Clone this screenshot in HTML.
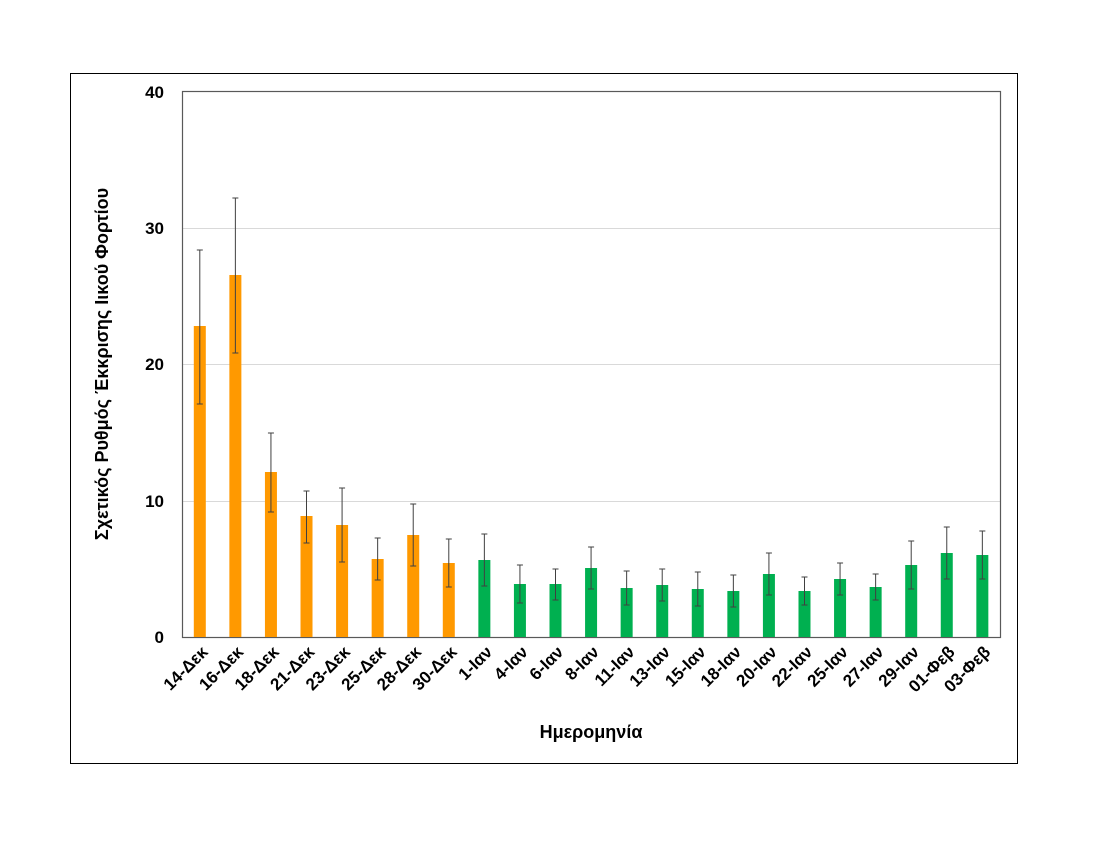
<!DOCTYPE html>
<html><head><meta charset="utf-8"><style>body{margin:0;background:#fff}svg{display:block}</style></head>
<body>
<svg width="1100" height="850" xmlns="http://www.w3.org/2000/svg" font-family="Liberation Sans, DejaVu Sans, sans-serif">
<rect x="70.5" y="73.5" width="947" height="690" fill="#fff" stroke="#000" stroke-width="1"/>
<g stroke="#d9d9d9" stroke-width="1">
<line x1="182" y1="228.5" x2="1000" y2="228.5"/>
<line x1="182" y1="364.5" x2="1000" y2="364.5"/>
<line x1="182" y1="501.5" x2="1000" y2="501.5"/>
</g>
<rect x="182.5" y="91.5" width="818" height="546" fill="none" stroke="#595959" stroke-width="1.2"/>
<g font-weight="bold" font-size="17" text-anchor="end" fill="#000">
<text x="164" y="98">40</text>
<text x="164" y="234">30</text>
<text x="164" y="370">20</text>
<text x="164" y="507">10</text>
<text x="164" y="643">0</text>
</g>
<text transform="translate(108,364) rotate(-90)" text-anchor="middle" font-weight="bold" font-size="18">Σχετικός Ρυθμός Έκκρισης Ιικού Φορτίου</text>
<text x="591" y="738" text-anchor="middle" font-weight="bold" font-size="18">Ημερομηνία</text>
<g id="bars"></g>
<g id="err" stroke="#404040" stroke-width="1"></g>
<g id="lab" font-weight="bold" font-size="17" text-anchor="end"></g>
<script>
var d=[["14-Δεκ",326,250,404],["16-Δεκ",275,198,353],["18-Δεκ",472,433,512],["21-Δεκ",516,491,543],["23-Δεκ",525,488,562],["25-Δεκ",559,538,580],["28-Δεκ",535,504,566],["30-Δεκ",563,539,587],["1-Ιαν",560,534,586],["4-Ιαν",584,565,603],["6-Ιαν",584,569,600],["8-Ιαν",568,547,589],["11-Ιαν",588,571,605],["13-Ιαν",585,569,601],["15-Ιαν",589,572,606],["18-Ιαν",591,575,607],["20-Ιαν",574,553,595],["22-Ιαν",591,577,605],["25-Ιαν",579,563,595],["27-Ιαν",587,574,600],["29-Ιαν",565,541,589],["01-Φεβ",553,527,579],["03-Φεβ",555,531,579]];
var ns="http://www.w3.org/2000/svg",b=document.getElementById("bars"),e=document.getElementById("err"),l=document.getElementById("lab");
d.forEach(function(r,i){var cx=199.8+i*35.57;
var re=document.createElementNS(ns,"rect");re.setAttribute("x",cx-6);re.setAttribute("y",r[1]);re.setAttribute("width",12);re.setAttribute("height",637-r[1]);re.setAttribute("fill",i<8?"#FF9900":"#00B050");b.appendChild(re);
function ln(a,b2,c,dd){var q=document.createElementNS(ns,"line");q.setAttribute("x1",a);q.setAttribute("y1",b2);q.setAttribute("x2",c);q.setAttribute("y2",dd);e.appendChild(q);}
ln(cx,r[2],cx,r[3]);ln(cx-3,r[2],cx+3,r[2]);ln(cx-3,r[3],cx+3,r[3]);
var t=document.createElementNS(ns,"text");t.setAttribute("transform","translate("+(cx+9)+",653) rotate(-45)");t.textContent=r[0];l.appendChild(t);});
</script>
</svg>
</body></html>
